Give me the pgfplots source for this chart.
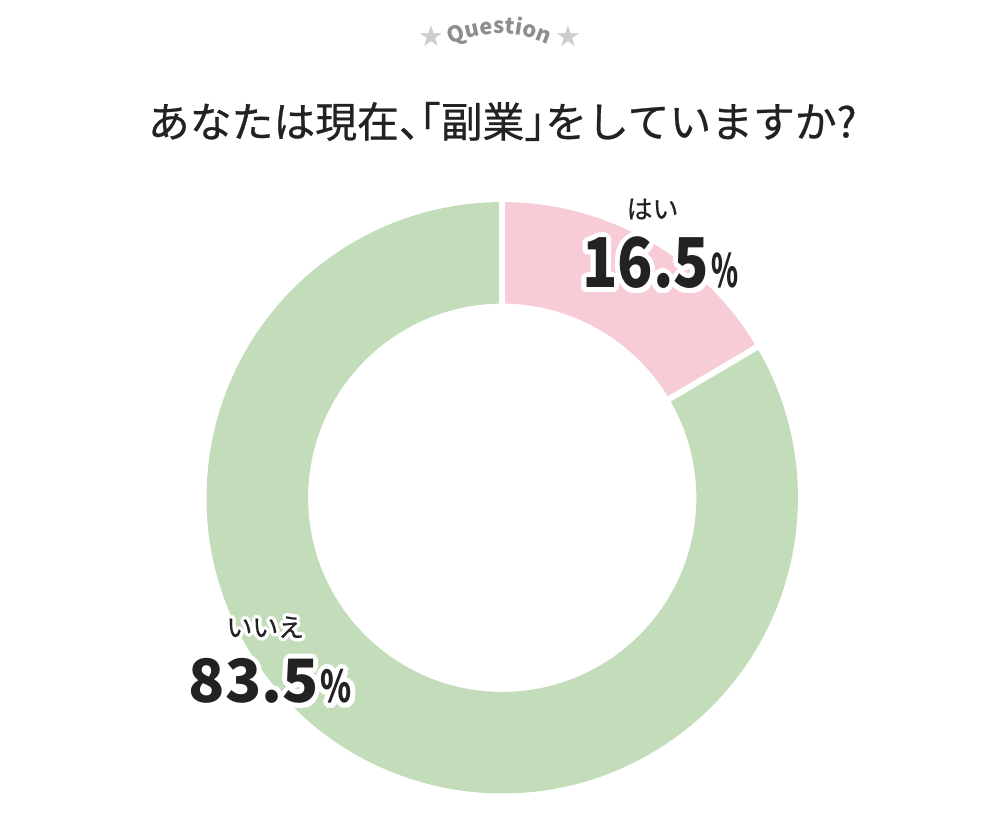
\documentclass[border=0pt]{standalone}
\usepackage{pgfplots}
\pgfplotsset{compat=1.18}
\usepackage{pgfplotstable}
\usepackage{graphicx}
\usepackage{fontspec}
\usetikzlibrary{decorations.text}
\setmainfont{Noto Sans CJK JP}
\newfontfamily\sym{DejaVu Sans}

\definecolor{pinkc}{HTML}{F8CCD6}
\definecolor{greenc}{HTML}{C3DDBA}
\definecolor{ink}{HTML}{222222}
\definecolor{qgray}{HTML}{8E8E8E}
\definecolor{stargray}{HTML}{CDCDCD}

% share of answers, in percent (はい, いいえ)
\pgfplotstableread{
value
16.5
83.5
}\shares

% ring geometry, in pixels of the 1000x800 frame
\def\cx{500}\def\cy{300}
\def\ro{297}\def\ri{195}

% annular sector: start angle, end angle, colour
\newcommand\sector[3]{%
  \fill[#3] (axis cs:{\cx+\ro*cos(#1)},{\cy+\ro*sin(#1)})
    arc[start angle=#1, end angle=#2, radius=\ro]
    -- (axis cs:{\cx+\ri*cos(#2)},{\cy+\ri*sin(#2)})
    arc[start angle=#2, end angle=#1, radius=\ri] -- cycle;}

% text with a white outline: x, y, anchor, halo width, content
\newcommand\halo[5]{%
  \pgfplotsinvokeforeach{0,30,...,330}{%
    \node[text=white, anchor=#3, inner sep=0pt, shift={(##1:#4)}]
      at (axis cs:#1,#2) {#5};}
  \node[text=ink, anchor=#3, inner sep=0pt] at (axis cs:#1,#2) {#5};}

\begin{document}
\pgfplotstablegetelem{0}{value}\of\shares \let\vA\pgfplotsretval
\pgfplotstablegetelem{1}{value}\of\shares \let\vB\pgfplotsretval
\pgfmathsetmacro\aA{90-3.6*\vA}
\pgfmathsetmacro\aB{\aA-3.6*\vB}
\begin{tikzpicture}
\begin{axis}[
  width=1000pt, height=800pt, scale only axis,
  xmin=0, xmax=1000, ymin=0, ymax=800,
  hide axis, clip=false,
]
  \path (axis cs:0,0) rectangle (axis cs:1000,800);
  \sector{90}{\aA}{pinkc}
  \sector{\aA}{\aB}{greenc}
  \draw[white, line width=6pt] (axis cs:{\cx+(\ri-5)*cos(90)},{\cy+(\ri-5)*sin(90)})
    -- (axis cs:{\cx+(\ro+5)*cos(90)},{\cy+(\ro+5)*sin(90)});
  \draw[white, line width=6pt] (axis cs:{\cx+(\ri-5)*cos(\aA)},{\cy+(\ri-5)*sin(\aA)})
    -- (axis cs:{\cx+(\ro+5)*cos(\aA)},{\cy+(\ro+5)*sin(\aA)});

  % header
  \path[decorate, decoration={text along path, text align=center,
      text={|\bfseries\fontsize{22}{22}\selectfont\color{qgray}|Question}}]
    (axis cs:{497+120*cos(114)},{646+120*sin(114)})
    arc[start angle=114, end angle=66, radius=120];
  \node[text=stargray, font=\sym\fontsize{29}{29}\selectfont] at (axis cs:429,764) {★};
  \node[text=stargray, font=\sym\fontsize{29}{29}\selectfont] at (axis cs:567,764) {★};
  \node[text=ink, font=\fontsize{42}{42}\selectfont\addfontfeature{FakeBold=0.6}] at (axis cs:500,678)
    {あなたは現在、\kern-0.5em\kern-0.5em「副業」\kern-0.5em をしていますか?};

  % labels
  \halo{651}{590}{center}{3.5pt}{\fontsize{26}{26}\selectfont\addfontfeature{FakeBold=0.5}はい}
  \halo{580}{511}{base west}{5pt}{\bfseries\fontsize{69}{69}\selectfont
    \scalebox{0.85}[1]{16.5}\kern2pt\scalebox{0.6}[1]{\fontsize{46}{46}\selectfont\%}}
  \halo{185}{94}{base west}{5pt}{\bfseries\fontsize{60}{60}\selectfont
    83.5\kern2pt\scalebox{0.72}[1]{\fontsize{44}{44}\selectfont\%}}
  \halo{262}{170}{center}{3.5pt}{\fontsize{26}{26}\selectfont\addfontfeature{FakeBold=0.5}いいえ}
\end{axis}
\end{tikzpicture}
\end{document}
